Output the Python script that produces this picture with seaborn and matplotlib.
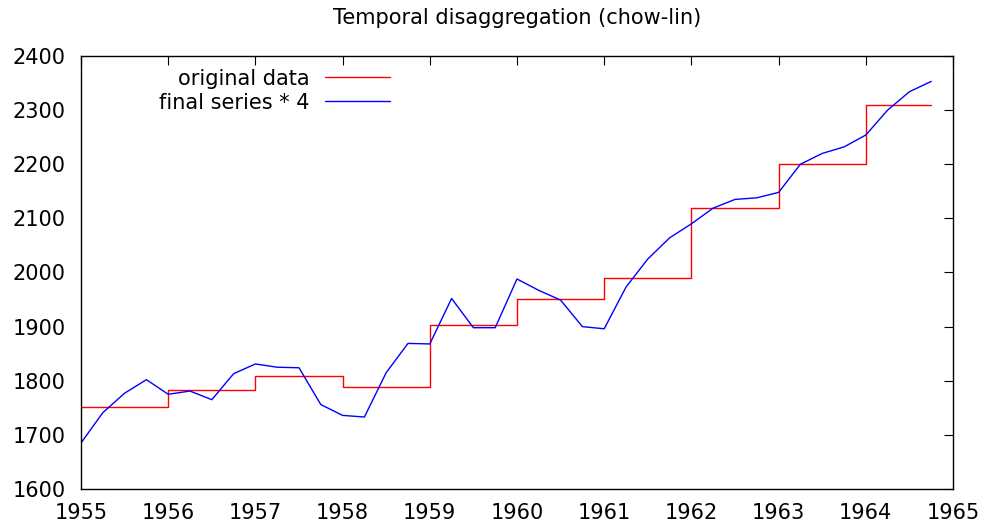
import numpy as np
import pandas as pd
import seaborn as sns
import matplotlib
matplotlib.use("Agg")
import matplotlib.pyplot as plt

# annual totals (original data) and the disaggregated quarterly series * 4
years = [1955, 1956, 1957, 1958, 1959, 1960, 1961, 1962, 1963, 1964]
original = [1752, 1783, 1809, 1789, 1903, 1951, 1989, 2120, 2200, 2310]
quarters = [0.0, 0.25, 0.5, 0.75]
final_x4 = [
    1685, 1741, 1777, 1802,
    1775, 1781, 1765, 1813,
    1831, 1825, 1824, 1756,
    1736, 1733, 1815, 1869,
    1868, 1952, 1898, 1898,
    1988, 1967, 1949, 1900,
    1896, 1973, 2025, 2064,
    2090, 2119, 2135, 2138,
    2148, 2200, 2220, 2232,
    2254, 2300, 2334, 2353,
]

t = [y + q for y in years for q in quarters]
df = pd.DataFrame({
    "t": t,
    "original": np.repeat(original, len(quarters)),
    "final": final_x4,
})

sns.set_theme(style="white")
plt.rcParams["font.family"] = ["DejaVu Sans"]
plt.rcParams["text.color"] = "black"

fig = plt.figure(figsize=(9.86, 5.27), dpi=100)
ax = fig.add_axes([81 / 986, 38 / 527, 872 / 986, 433 / 527])

sns.lineplot(data=df, x="t", y="original", ax=ax, color="#ff0000",
             linewidth=1.0, drawstyle="steps-post", label="original data")
sns.lineplot(data=df, x="t", y="final", ax=ax, color="#0000ff",
             linewidth=1.0, label="final series * 4")

ax.set_xlim(1955, 1965)
ax.set_ylim(1600, 2400)
ax.set_xticks(range(1955, 1966))
ax.set_yticks(range(1600, 2401, 100))
ax.set_xlabel("")
ax.set_ylabel("")
for s in ax.spines.values():
    s.set_color("black")
    s.set_linewidth(1.0)
ax.tick_params(direction="in", length=6.5, width=0.8, color="black",
               labelsize=15, top=True, right=True, labelcolor="black")
ax.tick_params(axis="y", pad=11)
ax.tick_params(axis="x", pad=10)

leg = ax.legend(loc="upper right", bbox_to_anchor=((390 - 81) / 872, 0.971),
                frameon=False, fontsize=15, markerfirst=False, borderpad=0,
                borderaxespad=0, handlelength=3.1, handletextpad=0.75,
                labelspacing=0.2)
for txt in leg.get_texts():
    txt.set_color("black")

fig.text(517 / 986, 1 - 18 / 527, "Temporal disaggregation (chow-lin)",
         ha="center", va="center", fontsize=15, color="black")

fig.savefig("out.png", dpi=100)
